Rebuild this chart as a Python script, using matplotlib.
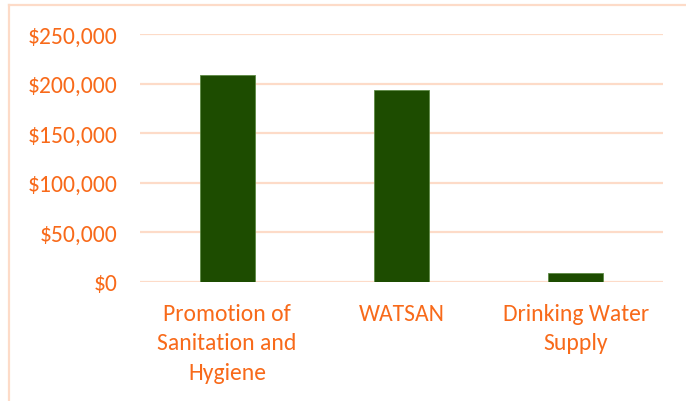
import numpy as np
import matplotlib.pyplot as plt
from matplotlib.lines import Line2D
from matplotlib.ticker import FuncFormatter

categories = ['Promotion of\nSanitation and\nHygiene', 'WATSAN', 'Drinking Water\nSupply']
amounts = [208700, 194000, 9400]

orange = '#F86A1A'
grid_col = '#FDDBC8'
bar_col = '#1D4C00'

plt.rcParams['font.family'] = ['Carlito', 'Lato', 'DejaVu Sans']

fig = plt.figure(figsize=(6.86, 4.02), dpi=100)
ax = fig.add_axes([140/686, 1-283/402, 523/686, 248/402])

x = np.arange(len(categories))
ax.bar(x, amounts, width=0.315, color=bar_col, edgecolor='#5E8A45', linewidth=0.6, zorder=3)

ax.set_xlim(-0.5, 2.5)
ax.set_ylim(0, 250000)
ax.set_yticks(np.arange(0, 250001, 50000))
ax.yaxis.set_major_formatter(FuncFormatter(lambda v, p: '${:,.0f}'.format(v)))
ax.set_xticks(x)
ax.set_xticklabels(categories, linespacing=1.5)

ax.grid(axis='y', color=grid_col, linewidth=1.6, zorder=0)
for s in ax.spines.values():
    s.set_visible(False)
ax.tick_params(axis='both', length=0, labelsize=17, labelcolor=orange)
ax.tick_params(axis='y', pad=16.5)
ax.tick_params(axis='x', pad=15)

# outer chart frame (top and left edges visible)
fig.add_artist(Line2D([8.5/686, 1.0], [1-6/402, 1-6/402], color=grid_col, linewidth=1.6, transform=fig.transFigure))
fig.add_artist(Line2D([8.5/686, 8.5/686], [0, 1-6/402], color=grid_col, linewidth=1.6, transform=fig.transFigure))

fig.savefig('out.png', dpi=100)
